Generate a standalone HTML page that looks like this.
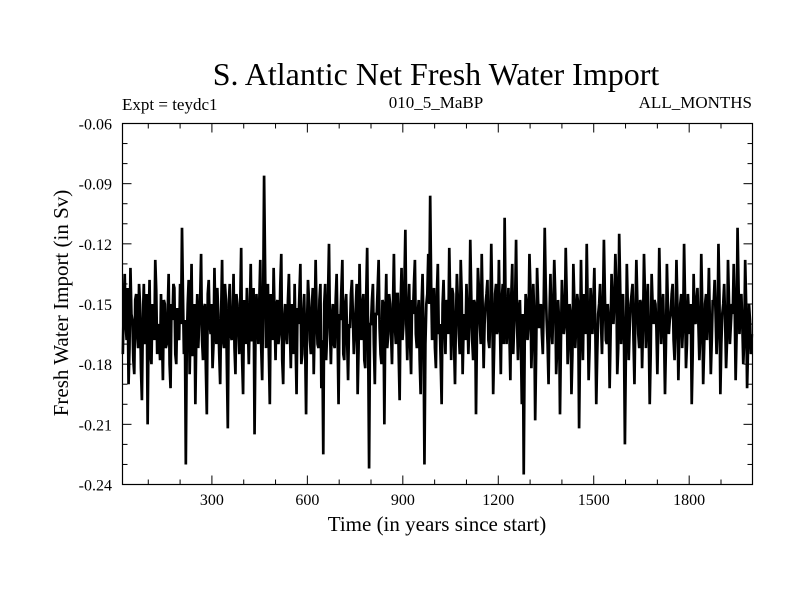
<!DOCTYPE html>
<html><head><meta charset="utf-8"><style>
body{margin:0;background:#fff}
svg text{font-family:"Liberation Serif",serif;fill:#000}
</style></head><body>
<svg id="chart" width="800" height="600" xmlns="http://www.w3.org/2000/svg">
<rect width="800" height="600" fill="#fff"/>
<text x="436" y="85" font-size="32" text-anchor="middle">S. Atlantic Net Fresh Water Import</text>
<text x="122" y="110" font-size="17">Expt = teydc1</text>
<text x="436" y="108" font-size="17" text-anchor="middle">010_5_MaBP</text>
<text x="752" y="108" font-size="17" text-anchor="end">ALL_MONTHS</text>
<text x="437" y="531" font-size="21" text-anchor="middle">Time (in years since start)</text>
<text transform="translate(68,303) rotate(-90)" font-size="21" text-anchor="middle">Fresh Water Import (in Sv)</text>
<g id="axes"></g>
<path id="series" fill="none" stroke="#000" stroke-width="2.7" stroke-linejoin="miter" stroke-miterlimit="2"/>
<rect x="122.5" y="123.5" width="630" height="361" fill="none" stroke="#000" stroke-width="1.2"/>
</svg>
<script>
const startYear = 20;
const stepYears = 6;
const xTicks = [300,600,900,1200,1500,1800];
const yTicks = [-0.06,-0.09,-0.12,-0.15,-0.18,-0.21,-0.24];
const yTickLabels = ["-0.06","-0.09","-0.12","-0.15","-0.18","-0.21","-0.24"];
// values at years 20, 26, 32, ...
const values = [
-.175,-.135,-.168,-.190,-.132,-.158,-.185,-.145,-.172,-.150,
-.198,-.140,-.165,-.210,-.138,-.180,-.155,-.128,-.175,-.162,
-.145,-.188,-.150,-.170,-.135,-.192,-.158,-.142,-.180,-.165,
-.140,-.112,-.175,-.230,-.150,-.185,-.130,-.168,-.200,-.145,
-.160,-.125,-.178,-.150,-.205,-.138,-.165,-.182,-.132,-.170,
-.155,-.190,-.128,-.172,-.148,-.212,-.140,-.168,-.135,-.185,
-.150,-.175,-.122,-.195,-.160,-.142,-.180,-.130,-.168,-.215,
-.145,-.170,-.128,-.188,-.086,-.172,-.140,-.200,-.155,-.132,
-.178,-.148,-.165,-.125,-.190,-.150,-.170,-.135,-.182,-.158,
-.140,-.195,-.160,-.130,-.175,-.145,-.205,-.138,-.168,-.152,
-.185,-.128,-.170,-.148,-.192,-.225,-.140,-.165,-.120,-.180,
-.150,-.172,-.135,-.200,-.158,-.128,-.178,-.145,-.188,-.162,
-.138,-.175,-.152,-.195,-.130,-.168,-.145,-.182,-.122,-.232,
-.160,-.140,-.190,-.155,-.128,-.175,-.148,-.210,-.135,-.165,
-.150,-.180,-.125,-.170,-.145,-.198,-.132,-.160,-.113,-.178,
-.140,-.185,-.155,-.128,-.172,-.148,-.195,-.135,-.230,-.150,
-.125,-.096,-.168,-.142,-.182,-.130,-.160,-.200,-.138,-.175,
-.150,-.122,-.178,-.145,-.190,-.135,-.165,-.128,-.185,-.155,
-.140,-.175,-.118,-.168,-.148,-.205,-.132,-.160,-.125,-.182,
-.150,-.138,-.172,-.120,-.195,-.145,-.165,-.128,-.185,-.140,
-.107,-.170,-.142,-.188,-.130,-.160,-.118,-.178,-.148,-.200,
-.235,-.145,-.168,-.125,-.182,-.140,-.208,-.132,-.162,-.150,
-.175,-.112,-.158,-.190,-.135,-.170,-.128,-.185,-.148,-.205,
-.138,-.165,-.122,-.180,-.150,-.195,-.130,-.172,-.145,-.212,
-.128,-.178,-.150,-.120,-.188,-.142,-.165,-.132,-.200,-.155,
-.140,-.175,-.118,-.168,-.150,-.192,-.135,-.160,-.125,-.185,
-.115,-.170,-.145,-.220,-.130,-.178,-.150,-.140,-.190,-.128,
-.165,-.148,-.182,-.125,-.172,-.140,-.200,-.135,-.160,-.150,
-.185,-.122,-.170,-.145,-.195,-.130,-.165,-.155,-.140,-.178,
-.128,-.188,-.150,-.172,-.120,-.182,-.145,-.165,-.200,-.135,
-.160,-.142,-.178,-.125,-.190,-.150,-.168,-.132,-.185,-.148,
-.138,-.175,-.120,-.195,-.155,-.140,-.182,-.128,-.170,-.150,
-.130,-.188,-.112,-.165,-.145,-.180,-.128,-.192,-.150,-.175
];
// values at intermediate years 23, 29, 35, ...
const midValues = [
-.150,-.160,-.142,-.172,-.155,-.178,-.148,-.165,-.140,-.182,
-.158,-.170,-.145,-.162,-.175,-.150,-.168,-.143,-.160,-.178,
-.165,-.148,-.172,-.155,-.180,-.150,-.140,-.175,-.152,-.168,
-.160,-.145,-.158,-.170,-.138,-.162,-.176,-.150,-.165,-.172,
-.148,-.168,-.152,-.182,-.145,-.160,-.150,-.170,-.158,-.142,
-.175,-.155,-.168,-.140,-.180,-.150,-.165,-.158,-.172,-.145,
-.162,-.150,-.178,-.148,-.170,-.160,-.155,-.168,-.142,-.165,
-.158,-.148,-.172,-.150,-.130,-.162,-.175,-.145,-.168,-.155,
-.150,-.170,-.140,-.178,-.158,-.165,-.148,-.162,-.150,-.175,
-.168,-.152,-.145,-.180,-.155,-.170,-.160,-.148,-.175,-.142,
-.160,-.155,-.172,-.140,-.168,-.150,-.178,-.145,-.162,-.158,
-.170,-.148,-.165,-.155,-.142,-.175,-.150,-.168,-.160,-.145,
-.155,-.165,-.140,-.172,-.158,-.150,-.178,-.145,-.168,-.160,
-.148,-.170,-.155,-.142,-.162,-.180,-.150,-.158,-.172,-.145,
-.165,-.152,-.160,-.145,-.175,-.150,-.168,-.140,-.160,-.155,
-.170,-.148,-.140,-.165,-.155,-.178,-.150,-.162,-.170,-.145,
-.150,-.140,-.155,-.172,-.145,-.165,-.178,-.150,-.160,-.148,
-.165,-.150,-.142,-.170,-.158,-.148,-.175,-.145,-.162,-.168,
-.155,-.160,-.145,-.178,-.150,-.165,-.142,-.170,-.152,-.160,
-.145,-.168,-.155,-.150,-.172,-.140,-.162,-.158,-.148,-.170,
-.150,-.158,-.165,-.145,-.175,-.148,-.160,-.152,-.168,-.155,
-.170,-.150,-.160,-.142,-.165,-.155,-.175,-.148,-.158,-.165,
-.148,-.140,-.170,-.155,-.162,-.150,-.145,-.172,-.158,-.168,
-.152,-.160,-.145,-.168,-.155,-.175,-.148,-.160,-.150,-.170,
-.158,-.145,-.165,-.150,-.172,-.155,-.148,-.162,-.175,-.150,
-.160,-.152,-.145,-.170,-.158,-.165,-.150,-.148,-.140,-.172,
-.140,-.158,-.165,-.175,-.150,-.162,-.145,-.168,-.155,-.148,
-.172,-.150,-.160,-.145,-.158,-.165,-.175,-.150,-.148,-.162,
-.160,-.148,-.155,-.165,-.170,-.150,-.158,-.145,-.168,-.160,
-.150,-.165,-.145,-.160,-.148,-.170,-.155,-.150,-.175,-.158,
-.148,-.160,-.165,-.150,-.172,-.145,-.155,-.160,-.168,-.150,
-.155,-.162,-.145,-.170,-.150,-.158,-.168,-.148,-.160,-.155,
-.150,-.165,-.140,-.155,-.160,-.168,-.150,-.172,-.158,-.165
];
const X0=122.5,X1=752.5,Y0=123.5,Y1=484.5,XMIN=19,XMAX=1999,YMIN=-0.24,YMAX=-0.06;
function xs(v){return X0+(v-XMIN)/(XMAX-XMIN)*(X1-X0);}
function ys(v){return Y1-(v-YMIN)/(YMAX-YMIN)*(Y1-Y0);}
const NS="http://www.w3.org/2000/svg";
const axes=document.getElementById('axes');
function line(x1,y1,x2,y2,name){const l=document.createElementNS(NS,'line');l.setAttribute('x1',x1);l.setAttribute('y1',y1);l.setAttribute('x2',x2);l.setAttribute('y2',y2);l.setAttribute('stroke','#000');l.setAttribute('stroke-width','1');


axes.appendChild(l);}
for(let t=100;t<XMAX;t+=100){const x=xs(t);const L=(t%300===0)?9:5;line(x,Y1,x,Y1-L,'x-tick');line(x,Y0,x,Y0+L,'x-tick');}
for(let k=-24;k<=-6;k++){const v=k/100;const y=ys(v);const L=(k%3===0)?9:5;line(X0,y,X0+L,y,'y-tick');line(X1,y,X1-L,y,'y-tick');}
xTicks.forEach(t=>{const tx=document.createElementNS(NS,'text');tx.setAttribute('x',xs(t));tx.setAttribute('y',505);tx.setAttribute('font-size','16');tx.setAttribute('text-anchor','middle');tx.textContent=String(t);


axes.appendChild(tx);});
yTicks.forEach((v,i)=>{const tx=document.createElementNS(NS,'text');tx.setAttribute('x',112);tx.setAttribute('y',ys(v)+6);tx.setAttribute('font-size','16');tx.setAttribute('text-anchor','end');tx.textContent=yTickLabels[i];


axes.appendChild(tx);});
const pts=[];
values.forEach((v,i)=>{pts.push([startYear+i*stepYears,v]);if(i<midValues.length)pts.push([startYear+i*stepYears+stepYears/2,midValues[i]]);});
let d='';
pts.forEach((p,i)=>{d+=(i?'L':'M')+xs(p[0]).toFixed(2)+' '+ys(p[1]).toFixed(2);});
document.getElementById('series').setAttribute('d',d);
</script>
</body></html>
